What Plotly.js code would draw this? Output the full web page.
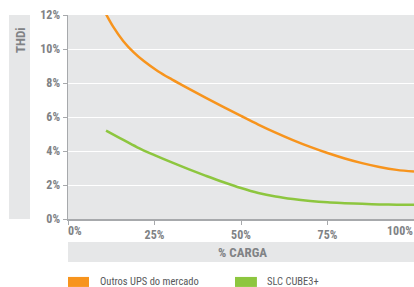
<!DOCTYPE html>
<html>
<head>
<meta charset="utf-8">
<script src="https://cdn.plot.ly/plotly-3.0.1.min.js"></script>
<style>
html,body{margin:0;padding:0;background:#fff;}
#chart{width:414px;height:287px;}
</style>
</head>
<body>
<div id="chart"></div>
<script>
const loadPct = [11, 13, 16, 19, 22, 26, 30, 35, 40, 45, 50, 55, 60, 65, 70, 75, 80, 85, 90, 95, 100];
const outrosUPS = [12.05, 11.33, 10.46, 9.8, 9.275, 8.695, 8.215, 7.655, 7.115, 6.585, 6.065, 5.555, 5.08, 4.64, 4.24, 3.88, 3.56, 3.285, 3.06, 2.89, 2.79];
const slcLoad = [11, 15, 20, 25, 30, 35, 40, 45, 50, 55, 60, 65, 70, 75, 80, 85, 90, 95, 100];
const slcCube = [5.2, 4.76, 4.22, 3.76, 3.33, 2.92, 2.53, 2.16, 1.82, 1.53, 1.32, 1.17, 1.06, 0.98, 0.93, 0.89, 0.86, 0.845, 0.84];
const seriesNames = ["Outros UPS do mercado", "SLC CUBE3+"];
const seriesColors = ["#f7941d", "#8dc63f"];
const xTicks = [0, 25, 50, 75, 100];
const xTickLabels = ["0%", "25%", "50%", "75%", "100%"];
const yTicks = [0, 2, 4, 6, 8, 10, 12];
const yTickLabels = ["0%", "2%", "4%", "6%", "8%", "10%", "12%"];
const yTitle = "THDi";
const xTitle = "% CARGA";

const FONT = "Liberation Sans Narrow, Roboto Condensed, Arial Narrow, sans-serif";
const GREY_TXT = "#808285";
const tickFont = {family: FONT, size: 12, color: GREY_TXT, weight: "bold"};

const xs = [loadPct, slcLoad];
const traces = [outrosUPS, slcCube].map((vals, i) => ({
  x: xs[i], y: vals, type: "scatter", mode: "lines", name: seriesNames[i],
  line: {color: seriesColors[i], width: 2.5, shape: "spline", smoothing: 1},
  showlegend: false, hoverinfo: "skip"
}));

const shapes = [
  {type:"rect", xref:"paper", yref:"paper", x0:-0.1705, x1:-0.1098, y0:0, y1:1, fillcolor:"#e6e7e8", line:{width:0}, layer:"below"},
  {type:"rect", xref:"paper", yref:"paper", x0:0, x1:1, y0:-0.2108, y1:-0.1127, fillcolor:"#e6e7e8", line:{width:0}, layer:"below"},
  {type:"rect", xref:"paper", yref:"paper", x0:0, x1:0.0607, y0:-0.333, y1:-0.284, fillcolor:seriesColors[0], line:{width:0}},
  {type:"rect", xref:"paper", yref:"paper", x0:0.4827, x1:0.546, y0:-0.333, y1:-0.284, fillcolor:seriesColors[1], line:{width:0}}
];

// end tick labels: first left-aligned, last right-aligned at their ticks (as in the reference)
const xEndLabels = [
  {text: xTickLabels[0], xref:"x", yref:"paper", x: xTicks[0], y:-0.0588, xanchor:"left", yanchor:"middle", showarrow:false, font: tickFont, xshift:-2},
  {text: xTickLabels[xTickLabels.length-1], xref:"x", yref:"paper", x: xTicks[xTicks.length-1], y:-0.0588, xanchor:"right", yanchor:"middle", showarrow:false, font: tickFont, xshift:1}
];
const xTickTextAxis = xTickLabels.map((t, i) => (i === 0 || i === xTickLabels.length-1) ? "" : t);

const annotations = [
  {text: yTitle, xref:"paper", yref:"paper", x:-0.1387, y:0.877, textangle:-90, showarrow:false,
   font:{family:FONT, size:13, color:GREY_TXT, weight:"bold"}, xanchor:"center", yanchor:"middle"},
  {text: xTitle, xref:"paper", yref:"paper", x:0.503, y:-0.1618, showarrow:false,
   font:{family:FONT, size:13, color:GREY_TXT, weight:"bold"}, xanchor:"center", yanchor:"middle"},
  {text: seriesNames[0], xref:"paper", yref:"paper", x:0.0867, y:-0.304, showarrow:false,
   font:{family:FONT, size:10.5, color:"#58595b"}, xanchor:"left", yanchor:"middle"},
  {text: seriesNames[1], xref:"paper", yref:"paper", x:0.569, y:-0.304, showarrow:false,
   font:{family:FONT, size:10.5, color:"#58595b"}, xanchor:"left", yanchor:"middle"}
].concat(xEndLabels);

const axisCommon = {
  zeroline: false, showline: true, linecolor: "#a7a9ac", linewidth: 1.5,
  ticks: "outside", ticklen: 4, tickcolor: "#a7a9ac", tickwidth: 1,
  tickfont: tickFont, fixedrange: true
};

const layout = {
  width: 414, height: 287,
  margin: {l:68, r:0, t:15, b:68, pad:0},
  paper_bgcolor: "#ffffff",
  plot_bgcolor: "#e6e7e8",
  showlegend: false,
  xaxis: Object.assign({}, axisCommon, {
    range: [0, 100], tickvals: xTicks, ticktext: xTickTextAxis,
    showgrid: false, ticklabeloverflow: "allow"
  }),
  yaxis: Object.assign({}, axisCommon, {
    range: [0, 12], tickvals: yTicks, ticktext: yTickLabels,
    showgrid: true, gridcolor: "#ffffff", gridwidth: 1, ticklabeloverflow: "allow"
  }),
  shapes: shapes,
  annotations: annotations
};

Plotly.newPlot("chart", traces, layout, {displayModeBar: false, staticPlot: true});
</script>
</body>
</html>
